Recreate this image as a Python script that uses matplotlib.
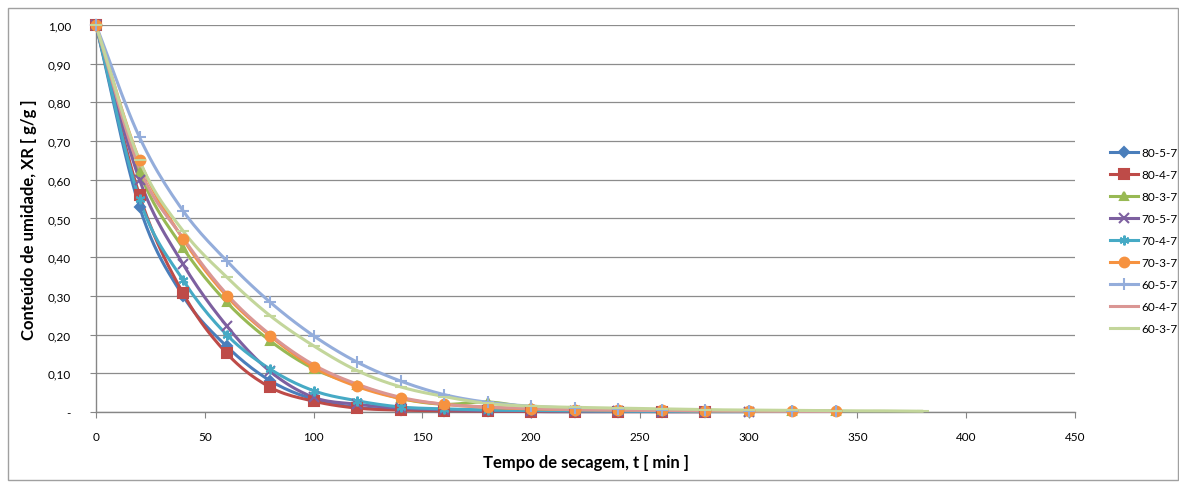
import numpy as np
import matplotlib
matplotlib.use("Agg")
import matplotlib.pyplot as plt
from matplotlib.ticker import FuncFormatter, MultipleLocator
from matplotlib.patches import Rectangle

plt.rcParams['font.family'] = ['Lato', 'DejaVu Sans']

# drying time, every 20 min
t = list(range(0, 400, 20))

labels = ["80-5-7", "80-4-7", "80-3-7", "70-5-7", "70-4-7",
          "70-3-7", "60-5-7", "60-4-7", "60-3-7"]

xr_80_5_7 = [1.00, 0.53, 0.300, 0.170, 0.081, 0.033, 0.012, 0.006, 0.003, 0.002,
             0.001, 0.001, 0.001, 0.001, 0.001]
xr_80_4_7 = [1.00, 0.56, 0.307, 0.152, 0.064, 0.028, 0.010, 0.005, 0.003, 0.002,
             0.001, 0.001, 0.001, 0.001, 0.001]
xr_80_3_7 = [1.00, 0.62, 0.424, 0.284, 0.184, 0.112, 0.070, 0.035, 0.020, 0.026,
             0.012, 0.008, 0.006, 0.004, 0.003, 0.002, 0.002, 0.002]
xr_70_5_7 = [1.00, 0.60, 0.382, 0.223, 0.105, 0.038, 0.020, 0.010, 0.006, 0.004,
             0.003, 0.002, 0.002, 0.001, 0.001, 0.001]
xr_70_4_7 = [1.00, 0.55, 0.341, 0.200, 0.111, 0.055, 0.029, 0.013, 0.008, 0.005,
             0.004, 0.003, 0.002, 0.002, 0.001, 0.001]
xr_70_3_7 = [1.00, 0.65, 0.447, 0.300, 0.197, 0.116, 0.066, 0.035, 0.020, 0.012,
             0.008, 0.006, 0.005, 0.004, 0.003, 0.003, 0.002, 0.002]
xr_60_5_7 = [1.00, 0.71, 0.520, 0.391, 0.284, 0.197, 0.129, 0.080, 0.045, 0.025,
             0.015, 0.010, 0.007, 0.005, 0.004, 0.003, 0.002, 0.002]
xr_60_4_7 = [1.00, 0.63, 0.450, 0.305, 0.200, 0.122, 0.072, 0.038, 0.020, 0.013,
             0.009, 0.006, 0.005, 0.004, 0.003, 0.003, 0.002, 0.002]
xr_60_3_7 = [1.00, 0.65, 0.468, 0.349, 0.249, 0.171, 0.107, 0.065, 0.040, 0.022,
             0.015, 0.012, 0.010, 0.008, 0.006, 0.005, 0.004, 0.003, 0.003, 0.002]

series = [xr_80_5_7, xr_80_4_7, xr_80_3_7, xr_70_5_7, xr_70_4_7,
          xr_70_3_7, xr_60_5_7, xr_60_4_7, xr_60_3_7]

colors = ["#4A7EBB", "#BE4B48", "#98B954", "#7D60A0", "#46AAC5",
          "#F69240", "#94ADDB", "#DA9694", "#C3D69B"]
markers = ["D", "s", "^", "x", (6, 2, 0), "o", "+", None, "_"]
msizes = [5, 7, 6, 7, 7, 7, 8, 0, 8]


def smooth(x, y, n=12):
    # catmull-rom curve through the points, like excel's smoothed lines
    x = np.asarray(x, float)
    y = np.asarray(y, float)
    px = np.concatenate([[2 * x[0] - x[1]], x, [2 * x[-1] - x[-2]]])
    py = np.concatenate([[2 * y[0] - y[1]], y, [2 * y[-1] - y[-2]]])
    xs, ys = [], []
    s = np.linspace(0, 1, n, endpoint=False)
    for i in range(1, len(px) - 2):
        for p, out in ((px, xs), (py, ys)):
            p0, p1, p2, p3 = p[i - 1], p[i], p[i + 1], p[i + 2]
            out.extend(0.5 * (2 * p1 + (-p0 + p2) * s
                              + (2 * p0 - 5 * p1 + 4 * p2 - p3) * s ** 2
                              + (-p0 + 3 * p1 - 3 * p2 + p3) * s ** 3))
    xs.append(x[-1])
    ys.append(y[-1])
    return xs, ys


fig = plt.figure(figsize=(11.79, 4.85), dpi=100)
ax = fig.add_axes([96 / 1179, 1 - 413 / 485, (1075 - 96) / 1179, (413 - 26) / 485])

for lab, vals, c, m, ms in zip(labels, series, colors, markers, msizes):
    tt = t[:len(vals)]
    sx, sy = smooth(tt, vals)
    ax.plot(sx, sy, color=c, lw=2.2, solid_capstyle="round", zorder=3, clip_on=False)
    if m is not None:
        ax.plot(tt, vals, ls="none", marker=m, ms=ms, color=c,
                mec=c, mew=1.5, zorder=4, clip_on=False)
    ax.plot([], [], color=c, lw=2.2, marker=m, ms=ms, mew=1.5, label=lab)

ax.set_xlim(0, 450)
ax.set_ylim(0, 1.0)
ax.xaxis.set_major_locator(MultipleLocator(50))
ax.yaxis.set_major_locator(MultipleLocator(0.1))
ax.yaxis.set_major_formatter(FuncFormatter(
    lambda v, p: "-" if abs(v) < 1e-9 else f"{v:.2f}".replace(".", ",")))

ax.grid(axis="y", color="#8C8C8C", lw=0.9)
ax.set_axisbelow(True)
for side in ["top", "right"]:
    ax.spines[side].set_visible(False)
for side in ["left", "bottom"]:
    ax.spines[side].set_color("#868686")
    ax.spines[side].set_linewidth(1.0)
ax.tick_params(axis="both", labelsize=8.5, color="#868686", length=4, direction="out")
ax.tick_params(axis="x", pad=10)
ax.tick_params(axis="y", pad=14)

ax.set_xlabel("Tempo de secagem, t [ min ]", fontsize=12, fontweight="bold", labelpad=8)
ax.set_ylabel("Conteúdo de umidade, XR [ g/g ]", fontsize=12, fontweight="bold", labelpad=8)

ax.legend(loc="upper left", bbox_to_anchor=(1.027, 0.705), frameon=False,
          fontsize=8.5, handlelength=2.4, labelspacing=0.93, handletextpad=0.3,
          borderpad=0.2)

fig.add_artist(Rectangle((8 / 1179, 4 / 485), (1178 - 8) / 1179, (480 - 8) / 485,
                         transform=fig.transFigure, fill=False,
                         edgecolor="#A0A0A0", lw=1.0))

fig.savefig("out.png", dpi=100)
